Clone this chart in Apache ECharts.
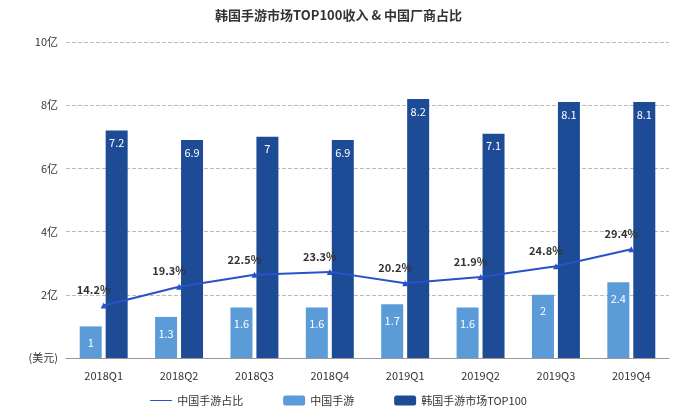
<!DOCTYPE html>
<html><head><meta charset="utf-8">
<script src="https://cdn.jsdelivr.net/npm/echarts@6/dist/echarts.min.js"></script>
<style>html,body{margin:0;padding:0;background:#fff}#c{width:677px;height:415px}</style>
</head><body><div id="c"></div>
<script>
const categories=['2018Q1','2018Q2','2018Q3','2018Q4','2019Q1','2019Q2','2019Q3','2019Q4'];
const chinaShare=[14.2,19.3,22.5,23.3,20.2,21.9,24.8,29.4];
const chinaRevenue=[1,1.3,1.6,1.6,1.7,1.6,2,2.4];
const koreaTop100=[7.2,6.9,7,6.9,8.2,7.1,8.1,8.1];
const yLabels={0:'(美元)',2:'2亿',4:'4亿',6:'6亿',8:'8亿',10:'10亿'};
const font='"Noto Sans CJK SC","Noto Sans",sans-serif';
const chart=echarts.init(document.getElementById('c'));
chart.setOption({
  animation:false,
  textStyle:{fontFamily:font},
  title:{text:'韩国手游市场TOP100收入 & 中国厂商占比',left:'center',top:4,textStyle:{fontSize:13,fontWeight:'bold',color:'#333',fontFamily:font}},
  grid:{left:66,right:8,top:42,bottom:57},
  legend:{bottom:4,itemGap:40,textStyle:{fontSize:11,color:'#333'},itemWidth:22,itemHeight:10,
    data:[{name:'中国手游占比',icon:'path://M0,5L22,5L22,6L0,6Z'},'中国手游','韩国手游市场TOP100']},
  xAxis:{type:'category',data:categories,axisTick:{show:false},axisLine:{lineStyle:{color:'#999'}},axisLabel:{color:'#333',fontSize:11,margin:12}},
  yAxis:[{type:'value',min:0,max:10,interval:2,axisLabel:{color:'#333',fontSize:11,margin:8,formatter:v=>yLabels[v]},splitLine:{lineStyle:{type:'dashed',color:'#bbb'}}},
    {type:'value',min:0,max:85.5,show:false,splitLine:{show:false}}],
  series:[
    {name:'中国手游',type:'bar',data:chinaRevenue,barWidth:22,barGap:'18%',itemStyle:{color:'#5b9bd8'},
      label:{show:true,position:'insideTop',color:'#fff',fontSize:11,offset:[0,6]}},
    {name:'韩国手游市场TOP100',type:'bar',data:koreaTop100,barWidth:22,itemStyle:{color:'#1e4b96'},
      label:{show:true,position:'insideTop',color:'#fff',fontSize:11,offset:[0,2]}},
    {name:'中国手游占比',type:'line',yAxisIndex:1,data:chinaShare,symbol:'triangle',symbolSize:6,
      lineStyle:{color:'#2a52c8',width:2},itemStyle:{color:'#2a52c8'},
      label:{show:true,position:'top',color:'#333',fontWeight:'bold',fontSize:11,offset:[-10,-2],formatter:p=>p.value+'%'}}
  ]
});
</script></body></html>
